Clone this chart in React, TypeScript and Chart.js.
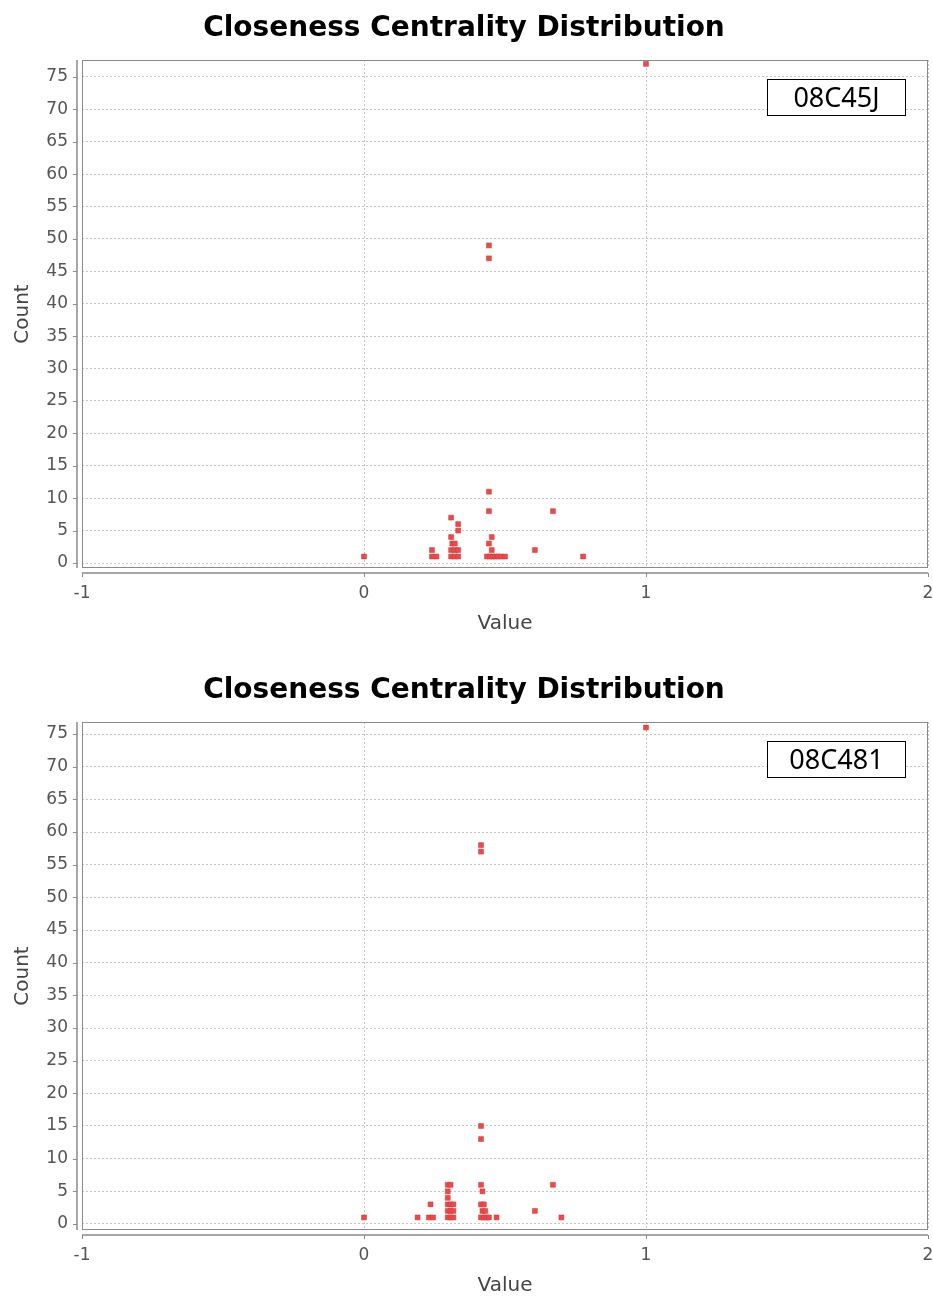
import React, { useEffect, useRef } from "react";
import { Chart, registerables } from "chart.js";

Chart.register(...registerables);

const TITLE = "Closeness Centrality Distribution";
const X_LABEL = "Value";
const Y_LABEL = "Count";
const Y_TICKS = [0, 5, 10, 15, 20, 25, 30, 35, 40, 45, 50, 55, 60, 65, 70, 75];

// Chart 1 (08C45J)
const labelA = "08C45J";
const valuesA = [
  0, 0.241, 0.241, 0.257, 0.309, 0.309, 0.313, 0.309, 0.309, 0.322, 0.322, 0.322,
  0.334, 0.334, 0.334, 0.334, 0.443, 0.443, 0.443, 0.443, 0.453, 0.443, 0.453,
  0.436, 0.446, 0.456, 0.466, 0.476, 0.486, 0.5, 0.606, 0.67, 0.777, 1.0,
];
const countsA = [
  1, 2, 1, 1, 7, 4, 3, 2, 1, 3, 2, 1,
  6, 5, 2, 1, 49, 47, 11, 8, 4, 3, 2,
  1, 1, 1, 1, 1, 1, 1, 2, 8, 1, 77,
];

// Chart 2 (08C481)
const labelB = "08C481";
const valuesB = [
  0, 0.19, 0.23, 0.245, 0.236, 0.297, 0.307, 0.297, 0.297, 0.297, 0.307, 0.317,
  0.297, 0.307, 0.317, 0.297, 0.307, 0.317, 0.415, 0.415, 0.415, 0.415, 0.415,
  0.42, 0.415, 0.425, 0.42, 0.43, 0.415, 0.425, 0.435, 0.443, 0.47, 0.606, 0.67,
  0.7, 1.0,
];
const countsB = [
  1, 1, 1, 1, 3, 6, 6, 5, 4, 3, 3, 3,
  2, 2, 2, 1, 1, 1, 58, 57, 15, 13, 6,
  5, 3, 3, 2, 2, 1, 1, 1, 1, 1, 2, 6,
  1, 76,
];

const frame = {
  id: "frame",
  afterDraw(chart: any) {
    const { ctx, chartArea: a } = chart;
    ctx.save();
    ctx.strokeStyle = "#8a8a8a";
    ctx.lineWidth = 1;
    ctx.strokeRect(a.left + 0.5, a.top + 0.5, a.right - a.left - 1, a.bottom - a.top - 1);
    ctx.lineWidth = 1.5;
    ctx.strokeStyle = "#8a8a8a";
    ctx.beginPath();
    ctx.moveTo(a.left - 5, a.top);
    ctx.lineTo(a.left - 5, a.bottom);
    ctx.moveTo(a.left, a.bottom + 5);
    ctx.lineTo(a.right, a.bottom + 5);
    ctx.stroke();
    ctx.lineWidth = 1;
    ctx.beginPath();
    const ys = chart.scales.y;
    ys.ticks.forEach((t: any) => {
      const p = Math.round(ys.getPixelForValue(t.value)) + 0.5;
      ctx.moveTo(a.left - 9, p);
      ctx.lineTo(a.left - 5, p);
    });
    const xs = chart.scales.x;
    xs.ticks.forEach((t: any) => {
      const p = Math.round(xs.getPixelForValue(t.value)) + 0.5;
      ctx.moveTo(p, a.bottom + 5);
      ctx.lineTo(p, a.bottom + 9);
    });
    ctx.stroke();
    ctx.restore();
  },
};

function makeConfig(xs: number[], ys: number[], yMin: number, yMax: number, padBottom: number): any {
  return {
    type: "scatter",
    data: {
      datasets: [
        {
          data: xs.map((x, i) => ({ x, y: ys[i] })),
          pointStyle: "rect",
          radius: 3.5,
          backgroundColor: "#f04848",
          borderColor: "#c83a3a",
          borderWidth: 0.5,
        },
      ],
    },
    options: {
      responsive: false,
      animation: false,
      layout: { padding: { left: 0, right: 5, top: 0, bottom: padBottom } },
      plugins: {
        legend: { display: false },
        tooltip: { enabled: false },
        title: {
          display: true,
          text: TITLE,
          color: "#000",
          font: { family: "DejaVu Sans", size: 28, weight: "bold", lineHeight: 1.2 },
          padding: { top: 12, bottom: 14.4 },
        },
      },
      scales: {
        x: {
          type: "linear",
          min: -1,
          max: 2,
          ticks: {
            stepSize: 1,
            color: "#555",
            padding: 15,
            font: { family: "DejaVu Sans", size: 17 },
          },
          grid: { color: "#c4c4c4", drawTicks: false, lineWidth: 1 },
          border: { display: false, dash: [2, 2] },
          title: {
            display: true,
            text: X_LABEL,
            color: "#444",
            font: { family: "DejaVu Sans", size: 20, lineHeight: 1 },
            padding: { top: 0, bottom: 0 },
          },
          afterFit: (s: any) => {
            s.height = 66;
            s.paddingLeft = 0;
            s.paddingRight = 0;
          },
        },
        y: {
          type: "linear",
          min: yMin,
          max: yMax,
          afterBuildTicks: (s: any) => {
            s.ticks = Y_TICKS.map((v) => ({ value: v }));
          },
          ticks: {
            color: "#555",
            padding: 14,
            font: { family: "DejaVu Sans", size: 17 },
          },
          grid: { color: "#c4c4c4", drawTicks: false, lineWidth: 1 },
          border: { display: false, dash: [2, 2] },
          title: {
            display: true,
            text: Y_LABEL,
            color: "#444",
            font: { family: "DejaVu Sans", size: 20, lineHeight: 1 },
            padding: { top: 13, bottom: 0 },
          },
          afterFit: (s: any) => {
            s.width = 82;
            s.paddingTop = 0;
            s.paddingBottom = 0;
          },
        },
      },
    },
    plugins: [frame],
  };
}

function Panel(props: { xs: number[]; ys: number[]; yMin: number; yMax: number; h: number; padBottom: number; label: string; top: number }) {
  const ref = useRef<HTMLCanvasElement>(null);
  useEffect(() => {
    if (!ref.current) return;
    const c = new Chart(ref.current, makeConfig(props.xs, props.ys, props.yMin, props.yMax, props.padBottom));
    return () => c.destroy();
  }, []);
  return (
    <div style={{ position: "absolute", left: 0, top: props.top, width: 933, height: props.h, background: "#fff" }}>
      <canvas ref={ref} width={933} height={props.h} style={{ display: "block" }} />
      <div
        style={{
          position: "absolute",
          left: 767,
          top: 79,
          width: 139,
          height: 37,
          boxSizing: "border-box",
          border: "1.5px solid #000",
          background: "#fff",
          fontFamily: "'Noto Sans', sans-serif",
          fontSize: 27,
          lineHeight: "34px",
          textAlign: "center",
          color: "#000",
        }}
      >
        {props.label}
      </div>
    </div>
  );
}

export default function App() {
  return (
    <div style={{ position: "absolute", left: 0, top: 0, width: 933, height: 1296, background: "#fff" }}>
      <Panel xs={valuesA} ys={countsA} yMin={-0.77} yMax={77.6} h={662} padBottom={28} label={labelA} top={0} />
      <Panel xs={valuesB} ys={countsB} yMin={-0.92} yMax={76.84} h={634} padBottom={0} label={labelB} top={662} />
    </div>
  );
}
